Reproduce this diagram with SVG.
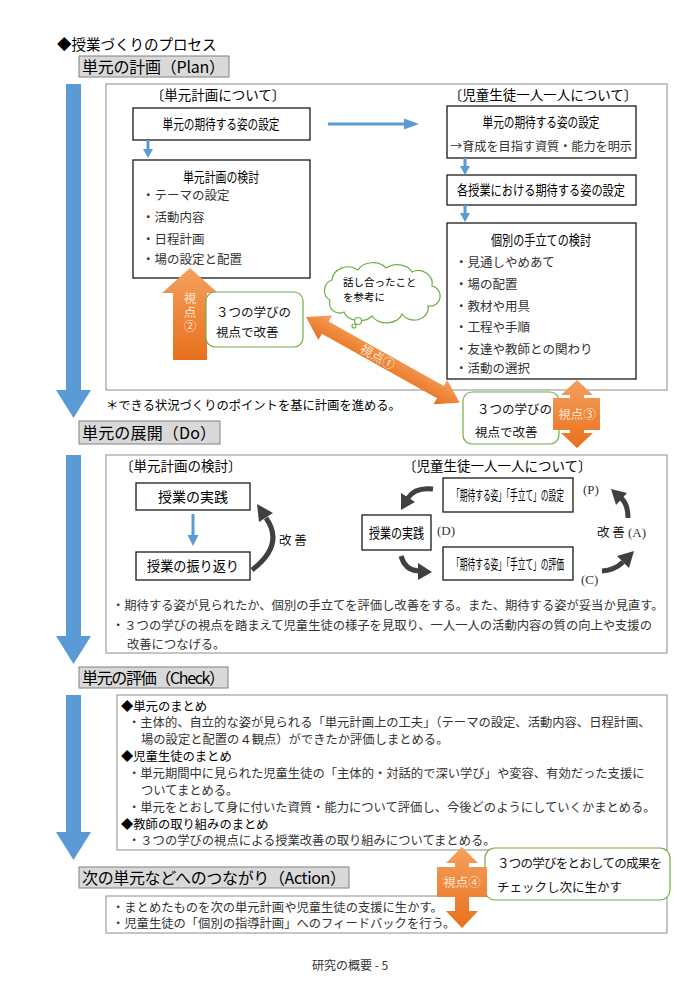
<svg xmlns="http://www.w3.org/2000/svg" width="700" height="989" viewBox="0 0 700 989">
<defs>
<style>
text{font-family:"Noto Sans CJK JP","Noto Sans",sans-serif;}
.hd{fill:#d9d9d9;stroke:#808080;stroke-width:1}
.ht{font-size:16px;fill:#000}
.ob{fill:#fff;stroke:#8c8c8c;stroke-width:1}
.bx{fill:#fff;stroke:#1a1a1a;stroke-width:1.3}
.gb{fill:#fff;stroke:#70ad47;stroke-width:1.2}
.bl{fill:#5b9bd5}
.or{fill:url(#og)}
.lb{font-size:14px;fill:#000}
.sm{font-size:13.5px;fill:#000}
.it{font-size:12.5px;fill:#333}
.tx{font-size:12.3px;fill:#333}
.gt{font-size:12.5px;fill:#111}
.vt{font-size:12.5px;fill:#fde4d0}
.ca{fill:none;stroke:#404040;stroke-width:5}
.ch{fill:#404040}
.bs{stroke:#5b9bd5;stroke-width:3;fill:none}
.pl{font-family:"Liberation Serif",serif;font-size:13px;fill:#333}
</style>
<linearGradient id="og" x1="0" y1="0" x2="0" y2="1"><stop offset="0" stop-color="#f4a05e"/><stop offset="1" stop-color="#e8701c"/></linearGradient>
</defs>
<rect width="700" height="989" fill="#fff"/>

<text x="57" y="50" style="font-size:14.5px;fill:#000">◆授業づくりのプロセス</text>

<!-- section headers -->
<g id="hdr-plan"><rect class="hd" x="79" y="56" width="150" height="21"/><text class="ht" x="82" y="72.5" textLength="143">単元の計画（Plan）</text></g>
<g id="hdr-do"><rect class="hd" x="79" y="421" width="141" height="23"/><text class="ht" x="82" y="438.5" textLength="134">単元の展開（Do）</text></g>
<g id="hdr-check"><rect class="hd" x="79" y="667" width="149" height="21"/><text class="ht" x="82" y="683.5" textLength="143">単元の評価（Check）</text></g>
<g id="hdr-action"><rect class="hd" x="79" y="867" width="270" height="21"/><text class="ht" x="82" y="883.5" textLength="264">次の単元などへのつながり（Action）</text></g>

<!-- big blue flow arrows -->
<g id="flow-arrows">
<polygon class="bl" points="66,84 81,84 81,390 91,390 73.5,418 56,390 66,390"/>
<polygon class="bl" points="66,455 81,455 81,636 91,636 73.5,664 56,636 66,636"/>
<polygon class="bl" points="66,695 81,695 81,832 91,832 73.5,860 56,832 66,832"/>
</g>

<!-- PLAN -->
<g id="plan-frame"><rect class="ob" x="106" y="84" width="561" height="306"/></g>
<text class="sm" x="218" y="100" text-anchor="middle">〔単元計画について〕</text>
<text class="sm" x="543" y="100" text-anchor="middle">〔児童生徒一人一人について〕</text>

<g id="p-unit-goal"><rect class="bx" x="133" y="108" width="177" height="32"/><text class="lb" x="221" y="129" text-anchor="middle" textLength="117" lengthAdjust="spacingAndGlyphs">単元の期待する姿の設定</text></g>
<g id="p-unit-plan"><rect class="bx" x="133" y="160" width="177" height="118"/>
<text class="lb" x="221" y="182" text-anchor="middle" textLength="76" lengthAdjust="spacingAndGlyphs">単元計画の検討</text>
<text class="it" x="142" y="200">・テーマの設定</text>
<text class="it" x="142" y="222">・活動内容</text>
<text class="it" x="142" y="244">・日程計画</text>
<text class="it" x="142" y="264">・場の設定と配置</text></g>

<g id="p-child-goal"><rect class="bx" x="447" y="106" width="189" height="52"/>
<text class="lb" x="541" y="127" text-anchor="middle" textLength="117" lengthAdjust="spacingAndGlyphs">単元の期待する姿の設定</text>
<text class="it" x="450" y="151" textLength="182" lengthAdjust="spacingAndGlyphs">→育成を目指す資質・能力を明示</text></g>
<g id="p-lesson-goal"><rect class="bx" x="447" y="175" width="189" height="30"/>
<text class="lb" x="541" y="195" text-anchor="middle" textLength="168" lengthAdjust="spacingAndGlyphs">各授業における期待する姿の設定</text></g>
<g id="p-support"><rect class="bx" x="447" y="223" width="189" height="156"/>
<text class="lb" x="541" y="245" text-anchor="middle" textLength="100" lengthAdjust="spacingAndGlyphs">個別の手立ての検討</text>
<text class="it" x="455" y="267">・見通しやめあて</text>
<text class="it" x="455" y="289">・場の配置</text>
<text class="it" x="455" y="311">・教材や用具</text>
<text class="it" x="455" y="332">・工程や手順</text>
<text class="it" x="455" y="354">・友達や教師との関わり</text>
<text class="it" x="455" y="373">・活動の選択</text></g>

<g id="plan-connectors">
<line class="bs" x1="328" y1="124" x2="406" y2="124"/><polygon class="bl" points="404,118.5 419,124 404,129.5"/>
<line class="bs" x1="148" y1="140" x2="148" y2="150"/><polygon class="bl" points="143,149 153,149 148,158"/>
<line class="bs" x1="465" y1="158" x2="465" y2="167"/><polygon class="bl" points="460,166 470,166 465,175"/>
<line class="bs" x1="465" y1="205" x2="465" y2="214"/><polygon class="bl" points="460,213 470,213 465,222"/>
</g>

<g id="kanten2"><polygon class="or" points="190,268 218,293 207,293 207,360 173,360 173,293 162,293"/>
<text class="vt" x="190" y="292" style="writing-mode:vertical-rl;letter-spacing:1.5px">視点②</text></g>
<g id="improve1"><rect class="gb" x="206" y="292" width="97" height="55" rx="9"/>
<text class="gt" x="216" y="317">３つの学びの</text>
<text class="gt" x="216" y="337">視点で改善</text></g>

<g id="cloud">
<path class="gb" d="M330,300 a11,11 0 0 1 2,-20 a16,14 0 0 1 26,-10 a16,12 0 0 1 28,-2 a16,12 0 0 1 26,4 a14,13 0 0 1 20,14 a10,10 0 0 1 -4,20 a14,12 0 0 1 -26,8 a16,12 0 0 1 -30,2 a16,12 0 0 1 -28,-4 a10,10 0 0 1 -14,-12 Z"/>
<circle class="gb" cx="358" cy="321" r="3.5"/><circle class="gb" cx="354" cy="326" r="2"/>
<text style="font-size:10.5px;fill:#000" x="343" y="286">話し合ったこと</text>
<text style="font-size:10.5px;fill:#000" x="343" y="301">を参考に</text></g>

<g id="kanten1" transform="translate(306,317) rotate(29.2)">
<polygon class="or" points="0,0 22,-14 22,-7 154,-7 154,-14 176,0 154,14 154,7 22,7 22,14"/>
<text class="vt" x="82" y="4.5" text-anchor="middle">視点①</text></g>

<text class="tx" x="106" y="410" style="fill:#000">＊できる状況づくりのポイントを基に計画を進める。</text>

<g id="improve3"><rect class="gb" x="463" y="392" width="96" height="52" rx="9"/>
<text class="gt" x="477" y="414">３つの学びの</text>
<text class="gt" x="475" y="437">視点で改善</text></g>
<g id="kanten3"><polygon class="or" points="577,380 593,395 584,395 584,398 600,398 600,430 584,430 584,433 593,433 577,448 561,433 570,433 570,430 553,430 553,398 570,398 570,395 561,395"/>
<text class="vt" x="577" y="419" text-anchor="middle">視点③</text></g>

<!-- DO -->
<g id="do-frame"><rect class="ob" x="106" y="455" width="561" height="198"/></g>
<text class="sm" x="120" y="471">〔単元計画の検討〕</text>
<text class="sm" x="403" y="471">〔児童生徒一人一人について〕</text>
<g id="d-practice"><rect class="bx" x="136" y="483" width="114" height="27"/><text class="lb" x="193" y="502" text-anchor="middle">授業の実践</text></g>
<g id="d-review"><rect class="bx" x="136" y="552" width="114" height="28"/><text class="lb" x="193" y="571" text-anchor="middle" textLength="92" lengthAdjust="spacingAndGlyphs">授業の振り返り</text></g>
<g id="d-plan"><rect class="bx" x="443" y="478" width="130" height="34"/><text class="lb" x="508" y="500" text-anchor="middle" textLength="112" lengthAdjust="spacingAndGlyphs">「期待する姿」「手立て」の設定</text></g>
<g id="d-do"><rect class="bx" x="362" y="515" width="69" height="35"/><text class="lb" x="396.5" y="538" text-anchor="middle" textLength="55" lengthAdjust="spacingAndGlyphs">授業の実践</text></g>
<g id="d-check"><rect class="bx" x="443" y="547" width="130" height="33"/><text class="lb" x="508" y="569" text-anchor="middle" textLength="112" lengthAdjust="spacingAndGlyphs">「期待する姿」「手立て」の評価</text></g>

<g id="do-connectors">
<line class="bs" x1="193" y1="514" x2="193" y2="536"/><polygon class="bl" points="187.5,535 198.5,535 193,546"/>
<path class="ca" d="M252,570 Q285,545 266,518"/><polygon class="ch" points="257,504 273,513 259,522"/>
<path class="ca" d="M433,489 Q415,487 408,498"/><polygon class="ch" points="401,510 415,502 401,493"/>
<path class="ca" d="M401,556 Q405,570 418,571"/><polygon class="ch" points="432,572 418,563 418,580"/>
<path class="ca" d="M602,571 Q615,570 623,562"/><polygon class="ch" points="634,551 629,568 617,556"/>
<path class="ca" d="M628,518 Q628,504 621,498"/><polygon class="ch" points="611,489 627,493 616,505"/>
</g>
<text class="pl" x="583" y="494">(P)</text>
<text class="pl" x="437" y="535">(D)</text>
<text class="pl" x="581" y="584">(C)</text>
<text style="font-size:12.5px;fill:#111" x="279" y="545">改 善</text>
<text style="font-size:12.5px;fill:#111" x="597" y="537">改 善</text>
<text class="pl" x="628" y="537">(A)</text>

<text class="tx" x="112" y="610">・期待する姿が見られたか、個別の手立てを評価し改善をする。また、期待する姿が妥当か見直す。</text>
<text class="tx" x="112" y="630">・３つの学びの視点を踏まえて児童生徒の様子を見取り、一人一人の活動内容の質の向上や支援の</text>
<text class="tx" x="127" y="649">改善につなげる。</text>

<!-- CHECK -->
<g id="check-frame"><rect class="ob" x="117" y="695" width="550" height="155"/></g>
<g id="check-text">
<text style="font-size:12.3px;fill:#000" x="121" y="711">◆単元のまとめ</text>
<text class="tx" x="128" y="727">・主体的、自立的な姿が見られる「単元計画上の工夫」（テーマの設定、活動内容、日程計画、</text>
<text class="tx" x="141" y="744">場の設定と配置の４観点）ができたか評価しまとめる。</text>
<text style="font-size:12.3px;fill:#000" x="121" y="761">◆児童生徒のまとめ</text>
<text class="tx" x="128" y="778">・単元期間中に見られた児童生徒の「主体的・対話的で深い学び」や変容、有効だった支援に</text>
<text class="tx" x="141" y="795">ついてまとめる。</text>
<text class="tx" x="128" y="812">・単元をとおして身に付いた資質・能力について評価し、今後どのようにしていくかまとめる。</text>
<text style="font-size:12.3px;fill:#000" x="121" y="829">◆教師の取り組みのまとめ</text>
<text class="tx" x="128" y="845">・３つの学びの視点による授業改善の取り組みについてまとめる。</text>
</g>

<!-- ACTION -->
<g id="action-frame"><rect class="ob" x="106" y="896" width="561" height="37"/>
<text class="tx" x="112" y="912">・まとめたものを次の単元計画や児童生徒の支援に生かす。</text>
<text class="tx" x="112" y="928">・児童生徒の「個別の指導計画」へのフィードバックを行う。</text></g>
<g id="result"><rect class="gb" x="485" y="848" width="185" height="52" rx="10"/>
<text class="gt" x="497" y="868" textLength="165">３つの学びをとおしての成果を</text>
<text class="gt" x="497" y="892">チェックし次に生かす</text></g>
<g id="kanten4"><polygon class="or" points="462,847 478,863 469,863 469,867 487,867 487,897 469,897 469,911 478,911 462,928 446,911 455,911 455,897 437,897 437,867 455,867 455,863 446,863"/>
<text class="vt" x="462" y="887" text-anchor="middle">視点④</text></g>

<text style="font-size:12px;fill:#333" x="312" y="970">研究の概要 - 5</text>
</svg>
